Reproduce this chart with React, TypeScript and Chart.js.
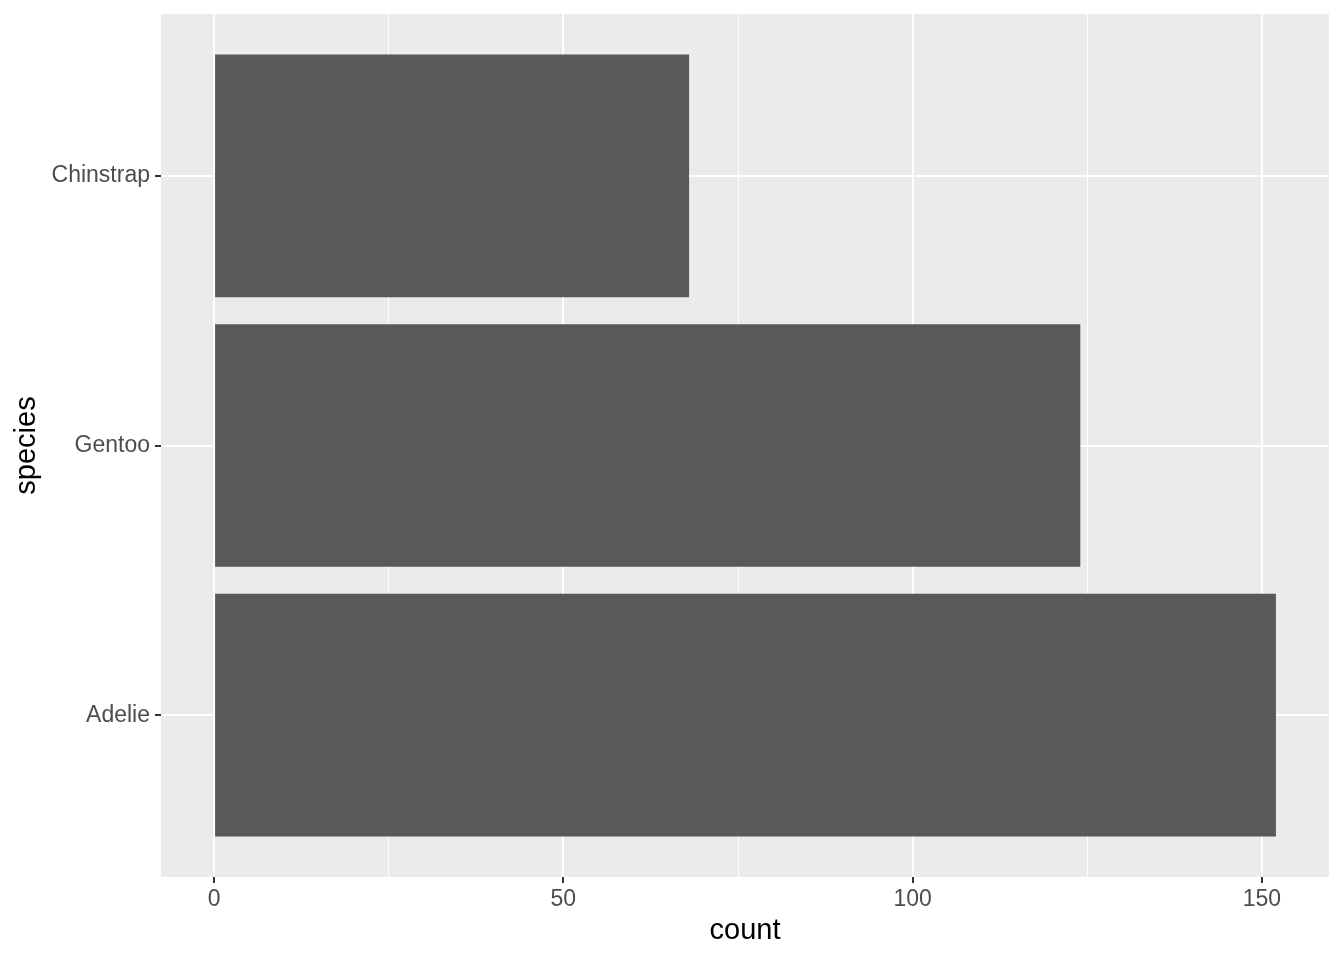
import React, { useEffect, useRef } from "react";
import { Chart, registerables } from "chart.js";

Chart.register(...registerables);

const species = ["Adelie", "Gentoo", "Chinstrap"];
const counts = [152, 124, 68];
const xTicks = [0, 25, 50, 75, 100, 125, 150];
const xMajor = [0, 50, 100, 150];

const panelBg = {
  id: "panelBg",
  beforeDraw(chart: any) {
    const { ctx, chartArea } = chart;
    ctx.save();
    ctx.fillStyle = "#EBEBEB";
    ctx.fillRect(chartArea.left, chartArea.top, chartArea.right - chartArea.left, chartArea.bottom - chartArea.top);
    ctx.restore();
  },
};

export default function App() {
  const ref = useRef<HTMLCanvasElement>(null);
  useEffect(() => {
    if (!ref.current) return;
    const data = species.map((s, i) => ({ x: counts[i], y: i + 1 }));
    const chart = new Chart(ref.current, {
      type: "bar",
      data: {
        datasets: [
          {
            data,
            backgroundColor: "#595959",
            borderWidth: 0,
            barPercentage: 0.9,
            categoryPercentage: 1,
          } as any,
        ],
      },
      plugins: [panelBg],
      options: {
        animation: false,
        responsive: false,
        indexAxis: "y",
        layout: { padding: { top: 14, right: 15, left: 0, bottom: 0 } },
        plugins: { legend: { display: false }, tooltip: { enabled: false } },
        scales: {
          x: {
            type: "linear",
            min: -7.6,
            max: 159.6,
            offset: false,
            border: { display: false },
            afterBuildTicks(scale: any) {
              scale.ticks = xTicks.map((v) => ({ value: v }));
            },
            afterFit(scale: any) {
              scale.height = 83;
              scale.paddingLeft = 0;
              scale.paddingRight = 0;
            },
            grid: {
              offset: false,
              color: "#FFFFFF",
              lineWidth: (c: any) => (xMajor.includes(c.tick?.value) ? 2 : 1),
              tickColor: (c: any) => (xMajor.includes(c.tick?.value) ? "#333333" : "rgba(0,0,0,0)"),
              tickLength: 6,
              tickWidth: 2,
            } as any,
            ticks: {
              autoSkip: false,
              maxRotation: 0,
              padding: 3,
              color: "#4D4D4D",
              font: { family: "Liberation Sans", size: 23 },
              callback: (v: any) => (xMajor.includes(Number(v)) ? String(v) : ""),
            },
            title: {
              display: true,
              text: "count",
              color: "#000000",
              font: { family: "Liberation Sans", size: 29 },
              padding: { top: 0, bottom: 12 },
            },
          },
          y: {
            type: "linear",
            min: 0.4,
            max: 3.6,
            offset: false,
            border: { display: false },
            afterBuildTicks(scale: any) {
              scale.ticks = [1, 2, 3].map((v) => ({ value: v }));
            },
            afterFit(scale: any) {
              scale.width = 161;
              scale.paddingTop = 0;
              scale.paddingBottom = 0;
            },
            grid: {
              offset: false,
              color: "#FFFFFF",
              lineWidth: 2,
              tickColor: "#333333",
              tickLength: 6,
              tickWidth: 2,
            } as any,
            ticks: {
              autoSkip: false,
              padding: 5,
              color: "#4D4D4D",
              font: { family: "Liberation Sans", size: 23 },
              callback: (v: any) => species[Number(v) - 1] ?? "",
            },
            title: {
              display: true,
              text: "species",
              color: "#000000",
              font: { family: "Liberation Sans", size: 29 },
              padding: { top: 10, bottom: 0 },
            },
          },
        },
      },
    });
    return () => chart.destroy();
  }, []);
  return (
    <div style={{ position: "fixed", left: 0, top: 0, width: 1344, height: 960, background: "#fff" }}>
      <canvas ref={ref} width={1344} height={960} style={{ width: 1344, height: 960 }} />
    </div>
  );
}
